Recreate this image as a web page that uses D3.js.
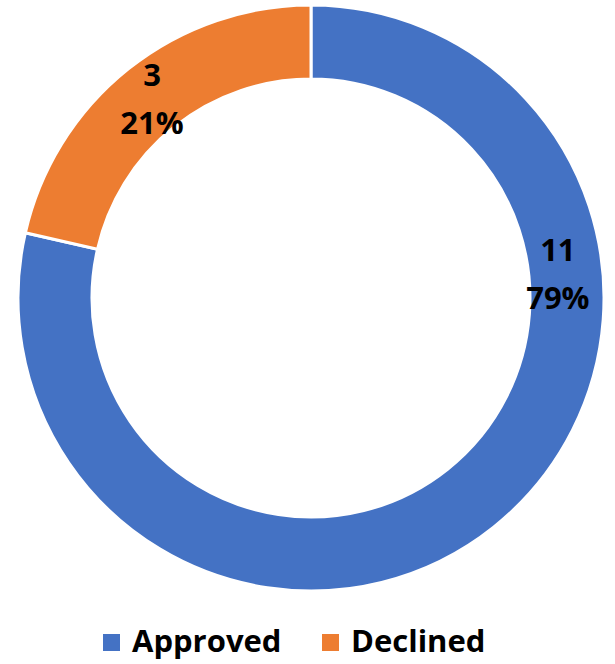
<!DOCTYPE html>
<html>
<head>
<meta charset="utf-8">
<script src="https://cdn.jsdelivr.net/npm/d3@7"></script>
<style>
  body { margin: 0; background: #fff; }
  text { font-family: "Open Sans", sans-serif; font-weight: bold; }
</style>
</head>
<body>
<svg id="chart"></svg>
<script>
const categories = ["Approved", "Declined"],
values = [11, 3],
percents = ["79%", "21%"],
colors = ["#4472C4", "#ED7D31"],
w = 615,
h = 664,
cx = 311,
cy = 298,
R = 293,
r = 219;

const svg = d3.select("#chart")
  .attr("width", w)
  .attr("height", h)

// pie layout, starting at 12 o'clock, clockwise
const pie = d3.pie().sort(null).value(d => d.value)
const arcs = pie(categories.map((c, i) => ({ name: c, value: values[i], pct: percents[i], color: colors[i] })))

const arc = d3.arc().innerRadius(r).outerRadius(R)

const g = svg.append("g").attr("transform", `translate(${cx},${cy})`)

g.selectAll("path")
  .data(arcs)
  .enter()
  .append("path")
    .attr("d", arc)
    .style("fill", d => d.data.color)
    .style("stroke", "#fff")
    .style("stroke-width", 3)

// labels: excel puts the big slice's label on the right side
const labelArc = d3.arc().innerRadius(248).outerRadius(248)
const labelPos = d => {
  if (d.index === 0) {
    const a = 84.5 * Math.PI / 180
    return labelArc.centroid({ startAngle: a, endAngle: a })
  }
  return d3.arc().innerRadius(255).outerRadius(255).centroid(d)
}

const labels = g.selectAll(".lbl")
  .data(arcs)
  .enter()
  .append("text")
    .attr("class", "lbl")
    .attr("text-anchor", "middle")
    .style("font-size", "31px")
    .attr("transform", d => `translate(${labelPos(d)})`)

labels.append("tspan").attr("x", 0).attr("y", -13).text(d => d.data.value)
labels.append("tspan").attr("x", 0).attr("y", 35).text(d => d.data.pct)

// legend
const legendX = [103, 322]
const legend = svg.selectAll(".legend")
  .data(arcs)
  .enter()
  .append("g")
    .attr("class", "legend")
    .attr("transform", (d, i) => `translate(${legendX[i]},634)`)

legend.append("rect")
  .attr("width", 17)
  .attr("height", 17)
  .style("fill", d => d.data.color)

legend.append("text")
  .attr("x", 29)
  .attr("y", 18)
  .style("font-size", "31px")
  .text(d => d.data.name)
</script>
</body>
</html>
